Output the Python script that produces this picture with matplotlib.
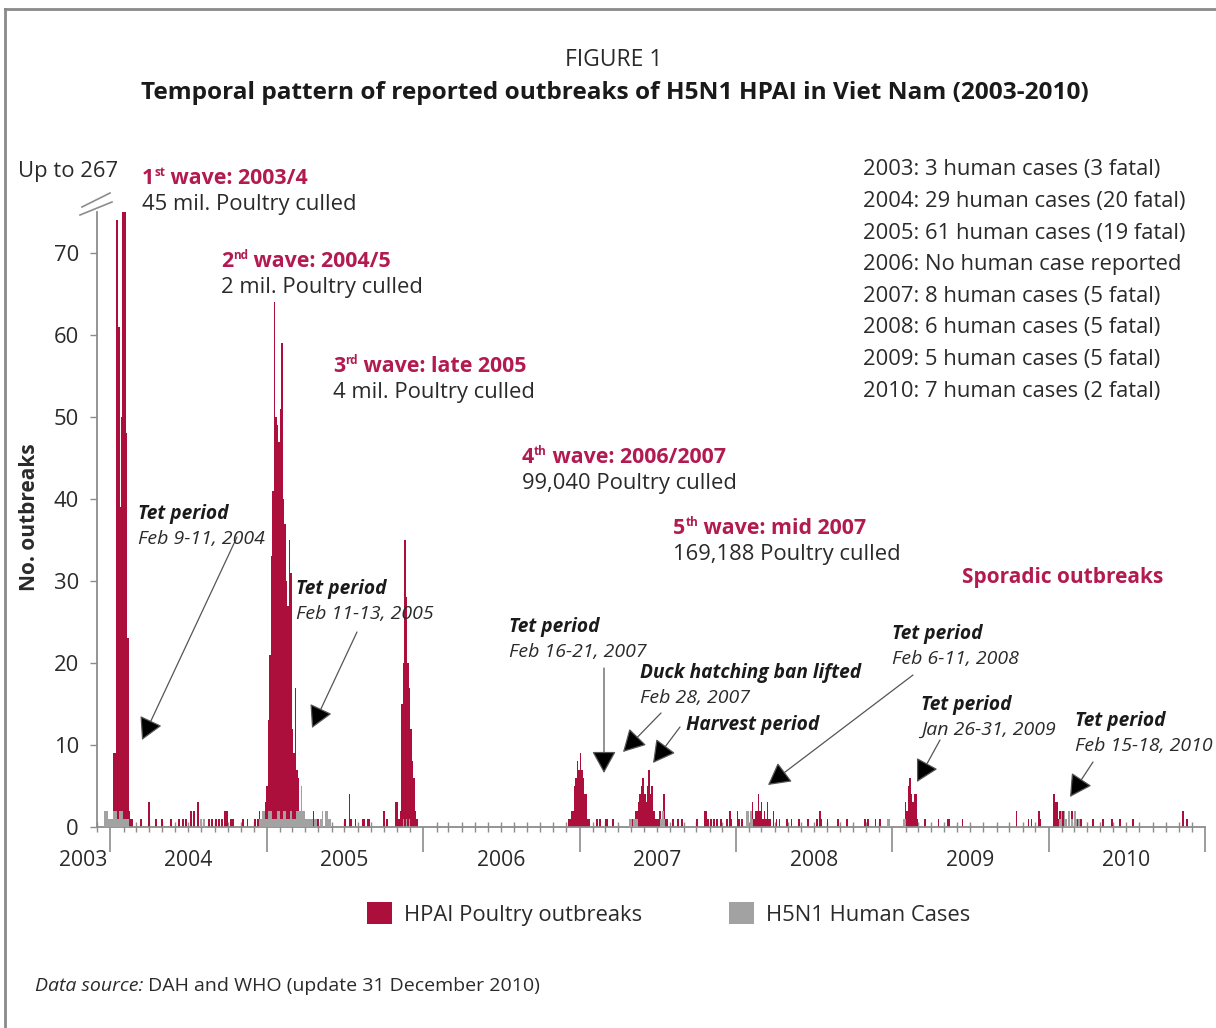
import numpy as np
import matplotlib
matplotlib.use('Agg')
import matplotlib.pyplot as plt
import matplotlib.dates as mdates
from matplotlib.lines import Line2D
from matplotlib.patches import Patch

W, H = 1216, 1028
plt.rcParams['font.family'] = ['Open Sans', 'DejaVu Sans']

# ---------------- data ----------------
# outbreak counts per 3.5-day reporting bin; bins numbered from 1 Dec 2003
BIN_ORIGIN = '2003-12-01'
BIN_DAYS = 3.5

wave1_first_bin = 11
wave1_counts = [9, 9, 74, 61, 39, 50, 267, 120, 48, 23, 2]
wave2_first_bin = 107
wave2_counts = [1, 2, 1, 2, 2, 3, 5, 13, 21, 33, 41, 64, 50, 49, 47, 51, 59, 40,
                37, 30, 27, 35, 31, 12, 9, 17, 7, 6, 2]
wave3_first_bin = 199
wave3_counts = [3, 3, 1, 2, 15, 20, 35, 28, 20, 17, 12, 8, 6, 2, 1]
wave4_first_bin = 314
wave4_counts = [1, 1, 2, 2, 5, 6, 8, 7, 9, 7, 6, 4, 4, 1, 1]
spring2007_first_bin = 355
spring2007_counts = [1, 1, 1, 1, 2, 2, 3, 4, 5, 6, 4, 3, 5, 7, 4, 5, 2, 1, 1, 1,
                     2, 1, 1, 4, 1]

sporadic_bins = [22, 23, 29, 34, 39, 43, 49, 54, 57, 59, 62, 64, 67, 74, 76, 79, 81,
                 83, 85, 86, 89, 90, 97, 100, 105,
                 144, 147, 165, 168, 169, 172, 177, 178, 180, 181, 191, 193,
                 333, 335, 339, 340, 344,
                 380, 384, 387, 390, 400, 405, 406, 407, 409, 411, 413, 416, 420,
                 422, 423, 427, 428, 430,
                 437, 438, 439, 440, 441, 442, 443, 444, 445, 446, 447, 448, 449,
                 451, 453, 455, 460, 463, 468, 474, 480, 482, 483, 487, 494, 500,
                 512, 514, 519, 522,
                 539, 540, 541, 542, 543, 544, 545, 546, 547,
                 552, 561, 567, 568, 577,
                 613, 621, 623, 628, 629,
                 638, 639, 640, 641, 642, 643, 644, 646, 648, 650, 652, 654, 656,
                 664, 671, 677, 682, 691, 724, 727]
sporadic_counts = [1, 1, 1, 3, 1, 1, 1, 1, 1, 1, 2, 2, 3, 1, 1, 1, 1,
                   1, 2, 2, 1, 1, 1, 1, 1,
                   2, 1, 1, 4, 1, 1, 1, 1, 1, 1, 2, 1,
                   1, 1, 1, 1, 1,
                   1, 1, 1, 1, 1, 2, 2, 1, 1, 1, 1, 1, 1,
                   2, 1, 2, 1, 1,
                   3, 1, 2, 2, 4, 2, 3, 1, 2, 1, 3, 1, 1,
                   2, 1, 1, 1, 1, 1, 1, 1, 2, 1, 1, 1, 1,
                   1, 1, 1, 1,
                   3, 2, 5, 6, 4, 3, 4, 4, 1,
                   1, 1, 1, 1, 1,
                   2, 1, 1, 2, 1,
                   4, 3, 3, 1, 2, 1, 2, 1, 2, 2, 1, 1, 1,
                   1, 1, 1, 1, 1, 2, 1]

human_bins = [5, 6, 7, 8, 9, 10, 11, 12, 13, 14, 15, 16, 17, 18, 19, 20, 69, 71,
              108, 109, 110, 111, 112, 113, 114, 115, 116, 117, 118, 119, 120, 121,
              122, 123, 124, 125, 126, 127, 128, 129, 130, 131, 132, 133, 134, 135,
              136, 137, 138, 139, 140, 141, 142, 143, 145, 146, 149, 150, 152, 153,
              154, 155, 204, 206, 208,
              355, 356, 358, 359, 360, 376, 377, 378,
              433, 434, 436, 437, 527, 528, 538, 539,
              642, 643, 645, 646, 648, 650, 652, 653, 655]
human_counts = [2, 2, 1, 1, 1, 1, 2, 2, 1, 1, 2, 2, 1, 1, 1, 1, 1, 1,
                1, 1, 2, 2, 1, 1, 2, 2, 2, 1, 1, 1, 2, 2,
                1, 1, 2, 2, 1, 1, 1, 2, 1, 1, 1, 2, 2, 2,
                5, 2, 2, 1, 1, 1, 1, 1, 1, 1, 1, 2, 2, 2,
                1, 1, 1, 1, 1,
                1, 1, 1, 1, 1, 1, 2, 1,
                2, 2, 2, 1, 1, 1, 1, 1,
                1, 2, 2, 1, 2, 1, 2, 1, 1]

yticks = [0, 10, 20, 30, 40, 50, 60, 70]
year_labels = ['2003', '2004', '2005', '2006', '2007', '2008', '2009', '2010']
axis_end = '2011-01-01'
y_top = 75

human_case_notes = ['2003: 3 human cases (3 fatal)',
                    '2004: 29 human cases (20 fatal)',
                    '2005: 61 human cases (19 fatal)',
                    '2006: No human case reported',
                    '2007: 8 human cases (5 fatal)',
                    '2008: 6 human cases (5 fatal)',
                    '2009: 5 human cases (5 fatal)',
                    '2010: 7 human cases (2 fatal)']

# ---------------- styles ----------------
RED = '#AD0F3D'
TEXT_RED = '#B21A50'
GRAY_BAR = '#A2A2A2'
AXIS_GRAY = '#8C8C8C'
TEXT = '#2A2A2A'
FS = 15.8      # regular text
FSB = 15.4     # bold red headings


def fx(px):
    return px / W


def fy(py):
    return 1 - py / H


def bins_to_num(bins):
    origin = mdates.date2num(np.datetime64(BIN_ORIGIN))
    return origin + np.asarray(bins, float) * BIN_DAYS


def run_bins(first, counts):
    return list(range(first, first + len(counts)))


poultry_bins = (run_bins(wave1_first_bin, wave1_counts) + run_bins(wave2_first_bin, wave2_counts)
                + run_bins(wave3_first_bin, wave3_counts) + run_bins(wave4_first_bin, wave4_counts)
                + run_bins(spring2007_first_bin, spring2007_counts) + sporadic_bins)
poultry_counts = (wave1_counts + wave2_counts + wave3_counts + wave4_counts
                  + spring2007_counts + sporadic_counts)

fig = plt.figure(figsize=(W / 100, H / 100), dpi=100)
fig.patch.set_facecolor('white')
ax = fig.add_axes([fx(97), fy(827), fx(1205) - fx(97), fy(212) - fy(827)])

ax.bar(bins_to_num(poultry_bins), poultry_counts, width=BIN_DAYS * 1.1, align='edge',
       color=RED, linewidth=0, zorder=2)
ax.bar(bins_to_num(human_bins), human_counts, width=BIN_DAYS * 1.1, align='edge',
       color=GRAY_BAR, linewidth=0, zorder=3)

x0 = bins_to_num([0])[0]
x1 = mdates.date2num(np.datetime64(axis_end))
ax.set_xlim(x0, x1)
ax.set_ylim(0, y_top)

for s in ['top', 'right']:
    ax.spines[s].set_visible(False)
for s in ['left', 'bottom']:
    ax.spines[s].set_color(AXIS_GRAY)
    ax.spines[s].set_linewidth(1.3)

ax.xaxis.set_major_locator(mdates.YearLocator())
ax.xaxis.set_minor_locator(mdates.MonthLocator())
ax.tick_params(axis='x', which='major', length=18, width=1.2, color=AXIS_GRAY,
               labelbottom=False)
ax.tick_params(axis='x', which='minor', length=7, width=1.0, color=AXIS_GRAY,
               direction='inout')
ax.set_yticks(yticks)
ax.tick_params(axis='y', length=5, width=1.0, color=AXIS_GRAY, labelsize=FS,
               labelcolor=TEXT, pad=8)

# year labels centred within each year (2003 sits left of the axis start)
for lab in year_labels:
    yr = int(lab)
    if yr == 2003:
        xd, dx = x0, -14
    else:
        xd, dx = mdates.date2num(np.datetime64(f'{yr}-07-01')), 0
    ax.annotate(lab, xy=(xd, 0), xycoords=('data', 'axes fraction'),
                xytext=(dx * 0.72, -33 * 0.72), textcoords='offset points',
                ha='center', va='center', fontsize=15.2, color=TEXT, annotation_clip=False)

# axis break marks
for (xa, ya, xb, yb) in [(82, 207, 110, 193), (80, 215, 112, 202)]:
    fig.add_artist(Line2D([fx(xa), fx(xb)], [fy(ya), fy(yb)], color=AXIS_GRAY, lw=1.2))
fig.text(fx(18), fy(172), 'Up to 267', fontsize=FS, color=TEXT, ha='left', va='center')

fig.text(fx(30), fy(517), 'No. outbreaks', rotation=90, fontsize=15, fontweight='bold',
         color=TEXT, ha='center', va='center')

# titles
fig.text(fx(614), fy(60), 'FIGURE 1', fontsize=16.5, color=TEXT, ha='center', va='center')
fig.text(fx(615), fy(93), 'Temporal pattern of reported outbreaks of H5N1 HPAI in Viet Nam (2003-2010)',
         fontsize=17.6, fontweight='bold', color='#1A1A1A', ha='center', va='center')

renderer = fig.canvas.get_renderer()


def text_runs(x_px, y_base_px, parts):
    x = x_px
    for s, kw in parts:
        kw = dict(kw)
        dy = kw.pop('dy', 0)
        t = fig.text(fx(x), fy(y_base_px - dy), s, ha='left', va='baseline', **kw)
        x += t.get_window_extent(renderer=renderer).width


def wave_label(x, yc, num, sup, rest, sub):
    bold = dict(fontsize=FSB, fontweight='bold', color=TEXT_RED)
    supk = dict(fontsize=8.5, fontweight='bold', color=TEXT_RED, dy=8)
    text_runs(x, yc + 7, [(num, bold), (sup, supk), (rest, bold)])
    fig.text(fx(x), fy(yc + 26 + 7), sub, fontsize=FS, color=TEXT, ha='left', va='baseline')


wave_label(142, 177, '1', 'st', ' wave: 2003/4', '45 mil. Poultry culled')
wave_label(221, 260, '2', 'nd', ' wave: 2004/5', '2 mil. Poultry culled')
wave_label(333, 365, '3', 'rd', ' wave: late 2005', '4 mil. Poultry culled')
wave_label(522, 456, '4', 'th', ' wave: 2006/2007', '99,040 Poultry culled')
wave_label(673, 527, '5', 'th', ' wave: mid 2007', '169,188 Poultry culled')
fig.text(fx(962), fy(577), 'Sporadic outbreaks', fontsize=15, fontweight='bold',
         color=TEXT_RED, ha='left', va='center')

for i, line in enumerate(human_case_notes):
    fig.text(fx(863), fy(170 + i * 31.6), line, fontsize=FS, color=TEXT, ha='left', va='center')

# event annotations
TFS = 14
events = [
    ('Tet period', 'Feb 9-11, 2004', 138, 514, (237, 537), (142, 740)),
    ('Tet period', 'Feb 11-13, 2005', 296, 589, (357, 632), (312, 728)),
    ('Tet period', 'Feb 16-21, 2007', 509, 627, (604, 668), (604, 773)),
    ('Duck hatching ban lifted', 'Feb 28, 2007', 640, 673, (661, 713), (623, 752)),
    ('Harvest period', None, 686, 725, (680, 727), (653, 763)),
    ('Tet period', 'Feb 6-11, 2008', 892, 634, (913, 675), (768, 785)),
    ('Tet period', 'Jan 26-31, 2009', 921, 705, (940, 740), (917, 782)),
    ('Tet period', 'Feb 15-18, 2010', 1075, 721, (1093, 762), (1070, 797)),
]
for head, sub, tx, ty, tail, tip in events:
    fig.text(fx(tx), fy(ty), head, fontsize=13.8, fontweight='bold', fontstyle='italic',
             color='#1A1A1A', ha='left', va='center')
    if sub:
        fig.text(fx(tx), fy(ty + 25), sub, fontsize=TFS, fontstyle='italic',
                 color=TEXT, ha='left', va='center')
    fig.add_artist(matplotlib.patches.FancyArrowPatch(
        (fx(tail[0]), fy(tail[1])), (fx(tip[0]), fy(tip[1])), transform=fig.transFigure,
        arrowstyle='-|>,head_length=0.6,head_width=0.33', mutation_scale=23,
        color='#555555', fc='black', ec='#555555', lw=0.9, shrinkA=0, shrinkB=0))

# legend
handles = [Patch(facecolor=RED, label='HPAI Poultry outbreaks'),
           Patch(facecolor=GRAY_BAR, label='H5N1 Human Cases')]
fig.legend(handles=handles, loc='center left', bbox_to_anchor=(fx(347), fy(914)), ncol=2,
           frameon=False, fontsize=FS, handlelength=1.15, handleheight=1.15,
           handletextpad=0.55, columnspacing=3.95, labelcolor=TEXT, borderpad=0.4)

text_runs(35, 991, [('Data source:', dict(fontsize=14, fontstyle='italic', color=TEXT)),
                    (' DAH and WHO (update 31 December 2010)', dict(fontsize=14, color=TEXT))])

# frame
fig.add_artist(Line2D([fx(5), fx(5)], [fy(9), fy(1028)], color='#8A8A8A', lw=2))
fig.add_artist(Line2D([fx(5), fx(1216)], [fy(9), fy(9)], color='#8A8A8A', lw=2))

fig.savefig('out.png', dpi=100, facecolor='white')
